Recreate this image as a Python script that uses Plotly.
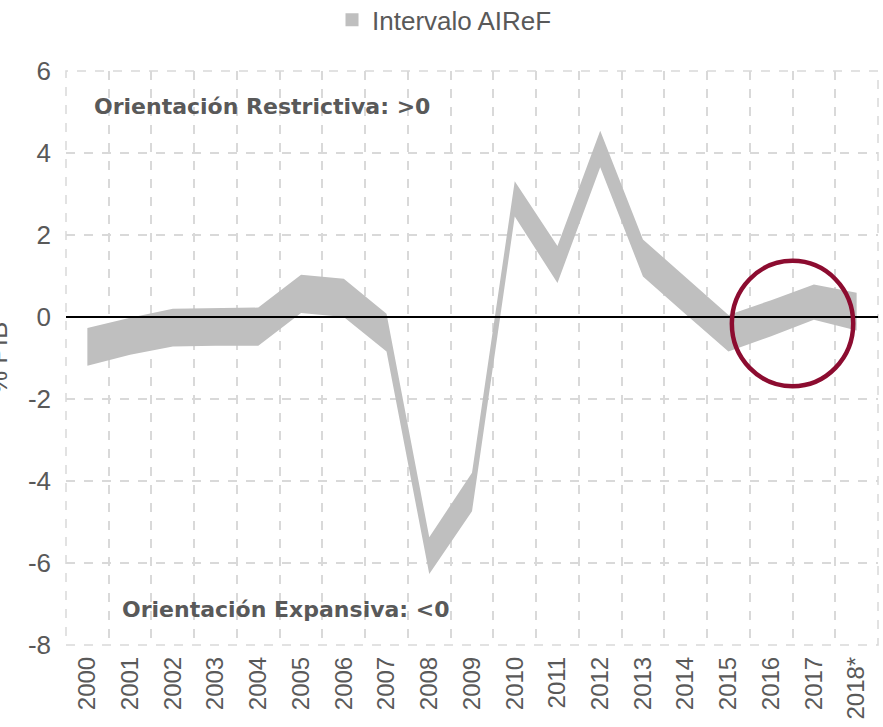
import plotly.graph_objects as go

# Years and the AIReF interval bounds (% of GDP)
years = ["2000", "2001", "2002", "2003", "2004", "2005", "2006", "2007", "2008", "2009",
         "2010", "2011", "2012", "2013", "2014", "2015", "2016", "2017", "2018*"]
upper = [-0.27, -0.02, 0.20, 0.21, 0.23, 1.03, 0.93, 0.08, -5.37, -3.80,
         3.31, 1.73, 4.54, 1.89, 0.97, 0.05, 0.41, 0.79, 0.59]
lower = [-1.19, -0.92, -0.72, -0.70, -0.70, 0.10, 0.00, -0.84, -6.27, -4.74,
         2.45, 0.83, 3.65, 0.99, 0.07, -0.84, -0.47, -0.07, -0.33]

y_ticks = [-8, -6, -4, -2, 0, 2, 4, 6]
y_tick_labels = ["-8", "-6", "-4", "-2", "0", "2", "4", "6"]
series_name = "Intervalo AIReF"
label_up = "Orientación Restrictiva: >0"
label_down = "Orientación Expansiva: <0"
y_title = "% PIB"

# Highlight ring around the latest years (category index / value units)
ring_cx, ring_rx = 16.5, 1.42
ring_cy, ring_ry = -0.16, 1.53

band_color = "#bfbfbf"
text_color = "#595959"
grid_color = "#d9d9d9"

fig = go.Figure()
fig.add_trace(go.Scatter(x=years, y=lower, mode="lines", line=dict(width=0),
                         showlegend=False, hoverinfo="skip"))
fig.add_trace(go.Scatter(x=years, y=upper, mode="lines", line=dict(width=0),
                         fill="tonexty", fillcolor=band_color, showlegend=False))
# legend entry
fig.add_trace(go.Scatter(x=[None], y=[None], mode="markers", name=series_name,
                         marker=dict(symbol="square", size=13, color=band_color)))

# dashed frame of the plotting area
fig.add_shape(type="rect", xref="paper", yref="paper", x0=0, x1=1, y0=0, y1=1,
              line=dict(color=grid_color, width=1.5, dash="dash"), layer="below")
# zero reference line above the band
fig.add_shape(type="line", xref="paper", x0=0, x1=1, yref="y", y0=0, y1=0,
              line=dict(color="black", width=2), layer="above")
fig.add_shape(type="circle", xref="x", yref="y",
              x0=ring_cx - ring_rx, x1=ring_cx + ring_rx,
              y0=ring_cy - ring_ry, y1=ring_cy + ring_ry,
              line=dict(color="#8c0c30", width=4.5), layer="above")

fig.add_annotation(text=label_up, xref="paper", yref="paper", x=0.032, y=0.939,
                   xanchor="left", yanchor="middle", showarrow=False,
                   font=dict(family="DejaVu Sans", size=22, color=text_color, weight="bold"))
fig.add_annotation(text=label_down, xref="paper", yref="paper", x=0.0665, y=0.0627,
                   xanchor="left", yanchor="middle", showarrow=False,
                   font=dict(family="DejaVu Sans", size=22, color=text_color, weight="bold"))
fig.add_annotation(text=y_title, xref="paper", yref="paper", x=0, y=0.5,
                   xshift=-68, xanchor="center", yanchor="middle", showarrow=False,
                   textangle=-90,
                   font=dict(family="Liberation Sans", size=26, color=text_color))

fig.update_xaxes(type="category", range=[-0.5, len(years) - 0.5],
                 tickson="boundaries", ticks="", tickangle=-90,
                 showgrid=True, gridcolor=grid_color, gridwidth=1.5, griddash="dash",
                 showline=False, zeroline=False, ticklabelstandoff=6,
                 tickfont=dict(family="Liberation Sans", size=24, color=text_color))
fig.update_yaxes(range=[-8, 6], tickvals=y_ticks, ticktext=y_tick_labels, ticks="",
                 showgrid=True, gridcolor=grid_color, gridwidth=1.5, griddash="dash",
                 showline=False, zeroline=False, ticklabelstandoff=14,
                 tickfont=dict(family="Liberation Sans", size=26, color=text_color))

fig.update_layout(
    width=883, height=727,
    margin=dict(l=66, r=5, t=71, b=82, autoexpand=False),
    plot_bgcolor="white", paper_bgcolor="white",
    showlegend=True,
    legend=dict(orientation="h", x=0.3276, y=1.089, xanchor="left", yanchor="middle",
                font=dict(family="Liberation Sans", size=26, color=text_color),
                bgcolor="rgba(0,0,0,0)", itemwidth=30),
)

fig.write_html("out.html")
